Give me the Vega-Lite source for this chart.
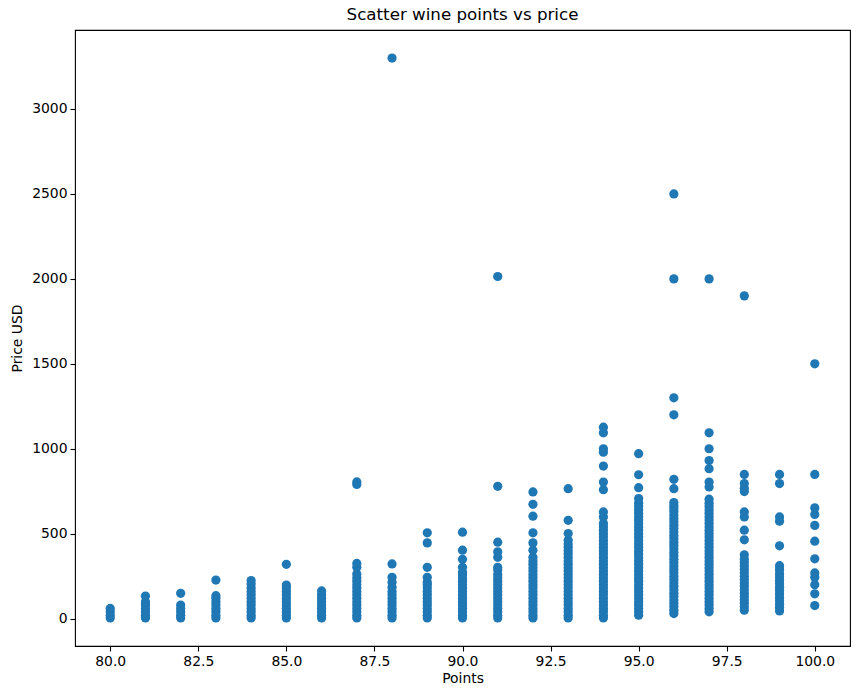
{
  "$schema": "https://vega.github.io/schema/vega-lite/v6.json",
  "width": 775,
  "height": 616,
  "autosize": {"type": "none"},
  "padding": {"left": 75, "top": 30, "right": 13, "bottom": 53},
  "background": "white",
  "title": {"text": "Scatter wine points vs price", "fontSize": 16.7, "font": "DejaVu Sans", "fontWeight": "normal", "color": "black", "offset": 6},
  "data": {
    "values": [
      {"points": 80, "price": 4}, {"points": 80, "price": 20}, {"points": 80, "price": 40}, {"points": 80, "price": 60},
      {"points": 81, "price": 4}, {"points": 81, "price": 20}, {"points": 81, "price": 40}, {"points": 81, "price": 60}, {"points": 81, "price": 80}, {"points": 81, "price": 100}, {"points": 81, "price": 133},
      {"points": 82, "price": 4}, {"points": 82, "price": 20}, {"points": 82, "price": 40}, {"points": 82, "price": 60}, {"points": 82, "price": 80}, {"points": 82, "price": 149},
      {"points": 83, "price": 4}, {"points": 83, "price": 20}, {"points": 83, "price": 40}, {"points": 83, "price": 60}, {"points": 83, "price": 80}, {"points": 83, "price": 100}, {"points": 83, "price": 120}, {"points": 83, "price": 135}, {"points": 83, "price": 227},
      {"points": 84, "price": 4}, {"points": 84, "price": 20}, {"points": 84, "price": 40}, {"points": 84, "price": 60}, {"points": 84, "price": 80}, {"points": 84, "price": 100}, {"points": 84, "price": 120}, {"points": 84, "price": 140}, {"points": 84, "price": 160}, {"points": 84, "price": 180}, {"points": 84, "price": 204}, {"points": 84, "price": 224},
      {"points": 85, "price": 4}, {"points": 85, "price": 20}, {"points": 85, "price": 40}, {"points": 85, "price": 60}, {"points": 85, "price": 80}, {"points": 85, "price": 100}, {"points": 85, "price": 120}, {"points": 85, "price": 140}, {"points": 85, "price": 160}, {"points": 85, "price": 180}, {"points": 85, "price": 198}, {"points": 85, "price": 320},
      {"points": 86, "price": 4}, {"points": 86, "price": 20}, {"points": 86, "price": 40}, {"points": 86, "price": 60}, {"points": 86, "price": 80}, {"points": 86, "price": 100}, {"points": 86, "price": 120}, {"points": 86, "price": 140}, {"points": 86, "price": 163},
      {"points": 87, "price": 4}, {"points": 87, "price": 20}, {"points": 87, "price": 40}, {"points": 87, "price": 60}, {"points": 87, "price": 80}, {"points": 87, "price": 100}, {"points": 87, "price": 120}, {"points": 87, "price": 140}, {"points": 87, "price": 160}, {"points": 87, "price": 180}, {"points": 87, "price": 200}, {"points": 87, "price": 220}, {"points": 87, "price": 240}, {"points": 87, "price": 263}, {"points": 87, "price": 302}, {"points": 87, "price": 325}, {"points": 87, "price": 790}, {"points": 87, "price": 805},
      {"points": 88, "price": 4}, {"points": 88, "price": 20}, {"points": 88, "price": 40}, {"points": 88, "price": 60}, {"points": 88, "price": 80}, {"points": 88, "price": 100}, {"points": 88, "price": 120}, {"points": 88, "price": 140}, {"points": 88, "price": 160}, {"points": 88, "price": 185}, {"points": 88, "price": 214}, {"points": 88, "price": 243}, {"points": 88, "price": 322}, {"points": 88, "price": 3300},
      {"points": 89, "price": 4}, {"points": 89, "price": 20}, {"points": 89, "price": 40}, {"points": 89, "price": 60}, {"points": 89, "price": 80}, {"points": 89, "price": 100}, {"points": 89, "price": 120}, {"points": 89, "price": 140}, {"points": 89, "price": 160}, {"points": 89, "price": 180}, {"points": 89, "price": 200}, {"points": 89, "price": 214}, {"points": 89, "price": 243}, {"points": 89, "price": 302}, {"points": 89, "price": 446}, {"points": 89, "price": 505},
      {"points": 90, "price": 4}, {"points": 90, "price": 20}, {"points": 90, "price": 40}, {"points": 90, "price": 60}, {"points": 90, "price": 80}, {"points": 90, "price": 100}, {"points": 90, "price": 120}, {"points": 90, "price": 140}, {"points": 90, "price": 160}, {"points": 90, "price": 180}, {"points": 90, "price": 200}, {"points": 90, "price": 220}, {"points": 90, "price": 240}, {"points": 90, "price": 260}, {"points": 90, "price": 273}, {"points": 90, "price": 302}, {"points": 90, "price": 349}, {"points": 90, "price": 403}, {"points": 90, "price": 509},
      {"points": 91, "price": 4}, {"points": 91, "price": 20}, {"points": 91, "price": 40}, {"points": 91, "price": 60}, {"points": 91, "price": 80}, {"points": 91, "price": 100}, {"points": 91, "price": 120}, {"points": 91, "price": 140}, {"points": 91, "price": 160}, {"points": 91, "price": 180}, {"points": 91, "price": 200}, {"points": 91, "price": 220}, {"points": 91, "price": 240}, {"points": 91, "price": 260}, {"points": 91, "price": 286}, {"points": 91, "price": 302}, {"points": 91, "price": 361}, {"points": 91, "price": 393}, {"points": 91, "price": 450}, {"points": 91, "price": 779}, {"points": 91, "price": 2014},
      {"points": 92, "price": 4}, {"points": 92, "price": 20}, {"points": 92, "price": 40}, {"points": 92, "price": 60}, {"points": 92, "price": 80}, {"points": 92, "price": 100}, {"points": 92, "price": 120}, {"points": 92, "price": 140}, {"points": 92, "price": 160}, {"points": 92, "price": 180}, {"points": 92, "price": 200}, {"points": 92, "price": 220}, {"points": 92, "price": 240}, {"points": 92, "price": 260}, {"points": 92, "price": 280}, {"points": 92, "price": 300}, {"points": 92, "price": 320}, {"points": 92, "price": 340}, {"points": 92, "price": 361}, {"points": 92, "price": 403}, {"points": 92, "price": 446}, {"points": 92, "price": 505}, {"points": 92, "price": 603}, {"points": 92, "price": 673}, {"points": 92, "price": 746},
      {"points": 93, "price": 4}, {"points": 93, "price": 20}, {"points": 93, "price": 40}, {"points": 93, "price": 60}, {"points": 93, "price": 80}, {"points": 93, "price": 100}, {"points": 93, "price": 120}, {"points": 93, "price": 140}, {"points": 93, "price": 160}, {"points": 93, "price": 180}, {"points": 93, "price": 200}, {"points": 93, "price": 220}, {"points": 93, "price": 240}, {"points": 93, "price": 260}, {"points": 93, "price": 280}, {"points": 93, "price": 300}, {"points": 93, "price": 320}, {"points": 93, "price": 340}, {"points": 93, "price": 360}, {"points": 93, "price": 380}, {"points": 93, "price": 400}, {"points": 93, "price": 420}, {"points": 93, "price": 440}, {"points": 93, "price": 462}, {"points": 93, "price": 501}, {"points": 93, "price": 579}, {"points": 93, "price": 765},
      {"points": 94, "price": 4}, {"points": 94, "price": 20}, {"points": 94, "price": 40}, {"points": 94, "price": 60}, {"points": 94, "price": 80}, {"points": 94, "price": 100}, {"points": 94, "price": 120}, {"points": 94, "price": 140}, {"points": 94, "price": 160}, {"points": 94, "price": 180}, {"points": 94, "price": 200}, {"points": 94, "price": 220}, {"points": 94, "price": 240}, {"points": 94, "price": 260}, {"points": 94, "price": 280}, {"points": 94, "price": 300}, {"points": 94, "price": 320}, {"points": 94, "price": 340}, {"points": 94, "price": 360}, {"points": 94, "price": 380}, {"points": 94, "price": 400}, {"points": 94, "price": 420}, {"points": 94, "price": 440}, {"points": 94, "price": 460}, {"points": 94, "price": 480}, {"points": 94, "price": 500}, {"points": 94, "price": 520}, {"points": 94, "price": 540}, {"points": 94, "price": 560}, {"points": 94, "price": 599}, {"points": 94, "price": 628}, {"points": 94, "price": 759}, {"points": 94, "price": 804}, {"points": 94, "price": 898}, {"points": 94, "price": 980}, {"points": 94, "price": 1000}, {"points": 94, "price": 1094}, {"points": 94, "price": 1127},
      {"points": 95, "price": 20}, {"points": 95, "price": 40}, {"points": 95, "price": 60}, {"points": 95, "price": 80}, {"points": 95, "price": 100}, {"points": 95, "price": 120}, {"points": 95, "price": 140}, {"points": 95, "price": 160}, {"points": 95, "price": 180}, {"points": 95, "price": 200}, {"points": 95, "price": 220}, {"points": 95, "price": 240}, {"points": 95, "price": 260}, {"points": 95, "price": 280}, {"points": 95, "price": 300}, {"points": 95, "price": 320}, {"points": 95, "price": 340}, {"points": 95, "price": 360}, {"points": 95, "price": 380}, {"points": 95, "price": 400}, {"points": 95, "price": 420}, {"points": 95, "price": 440}, {"points": 95, "price": 460}, {"points": 95, "price": 480}, {"points": 95, "price": 500}, {"points": 95, "price": 520}, {"points": 95, "price": 540}, {"points": 95, "price": 560}, {"points": 95, "price": 580}, {"points": 95, "price": 600}, {"points": 95, "price": 620}, {"points": 95, "price": 640}, {"points": 95, "price": 660}, {"points": 95, "price": 680}, {"points": 95, "price": 707}, {"points": 95, "price": 771}, {"points": 95, "price": 847}, {"points": 95, "price": 971},
      {"points": 96, "price": 30}, {"points": 96, "price": 50}, {"points": 96, "price": 70}, {"points": 96, "price": 90}, {"points": 96, "price": 110}, {"points": 96, "price": 130}, {"points": 96, "price": 150}, {"points": 96, "price": 170}, {"points": 96, "price": 190}, {"points": 96, "price": 210}, {"points": 96, "price": 230}, {"points": 96, "price": 250}, {"points": 96, "price": 270}, {"points": 96, "price": 290}, {"points": 96, "price": 310}, {"points": 96, "price": 330}, {"points": 96, "price": 350}, {"points": 96, "price": 370}, {"points": 96, "price": 390}, {"points": 96, "price": 410}, {"points": 96, "price": 430}, {"points": 96, "price": 450}, {"points": 96, "price": 470}, {"points": 96, "price": 490}, {"points": 96, "price": 510}, {"points": 96, "price": 530}, {"points": 96, "price": 550}, {"points": 96, "price": 570}, {"points": 96, "price": 590}, {"points": 96, "price": 610}, {"points": 96, "price": 630}, {"points": 96, "price": 650}, {"points": 96, "price": 665}, {"points": 96, "price": 683}, {"points": 96, "price": 765}, {"points": 96, "price": 820}, {"points": 96, "price": 1200}, {"points": 96, "price": 1300}, {"points": 96, "price": 2000}, {"points": 96, "price": 2500},
      {"points": 97, "price": 40}, {"points": 97, "price": 60}, {"points": 97, "price": 80}, {"points": 97, "price": 100}, {"points": 97, "price": 120}, {"points": 97, "price": 140}, {"points": 97, "price": 160}, {"points": 97, "price": 180}, {"points": 97, "price": 200}, {"points": 97, "price": 220}, {"points": 97, "price": 240}, {"points": 97, "price": 260}, {"points": 97, "price": 280}, {"points": 97, "price": 300}, {"points": 97, "price": 320}, {"points": 97, "price": 340}, {"points": 97, "price": 360}, {"points": 97, "price": 380}, {"points": 97, "price": 400}, {"points": 97, "price": 420}, {"points": 97, "price": 440}, {"points": 97, "price": 460}, {"points": 97, "price": 480}, {"points": 97, "price": 500}, {"points": 97, "price": 520}, {"points": 97, "price": 540}, {"points": 97, "price": 560}, {"points": 97, "price": 580}, {"points": 97, "price": 600}, {"points": 97, "price": 620}, {"points": 97, "price": 640}, {"points": 97, "price": 660}, {"points": 97, "price": 680}, {"points": 97, "price": 703}, {"points": 97, "price": 775}, {"points": 97, "price": 804}, {"points": 97, "price": 883}, {"points": 97, "price": 931}, {"points": 97, "price": 1000}, {"points": 97, "price": 1094}, {"points": 97, "price": 2000},
      {"points": 98, "price": 50}, {"points": 98, "price": 70}, {"points": 98, "price": 90}, {"points": 98, "price": 110}, {"points": 98, "price": 130}, {"points": 98, "price": 150}, {"points": 98, "price": 170}, {"points": 98, "price": 190}, {"points": 98, "price": 210}, {"points": 98, "price": 230}, {"points": 98, "price": 250}, {"points": 98, "price": 270}, {"points": 98, "price": 290}, {"points": 98, "price": 310}, {"points": 98, "price": 330}, {"points": 98, "price": 350}, {"points": 98, "price": 376}, {"points": 98, "price": 464}, {"points": 98, "price": 521}, {"points": 98, "price": 599}, {"points": 98, "price": 628}, {"points": 98, "price": 748}, {"points": 98, "price": 768}, {"points": 98, "price": 795}, {"points": 98, "price": 849}, {"points": 98, "price": 1900},
      {"points": 99, "price": 45}, {"points": 99, "price": 65}, {"points": 99, "price": 85}, {"points": 99, "price": 105}, {"points": 99, "price": 125}, {"points": 99, "price": 145}, {"points": 99, "price": 165}, {"points": 99, "price": 185}, {"points": 99, "price": 205}, {"points": 99, "price": 225}, {"points": 99, "price": 245}, {"points": 99, "price": 265}, {"points": 99, "price": 290}, {"points": 99, "price": 312}, {"points": 99, "price": 429}, {"points": 99, "price": 574}, {"points": 99, "price": 599}, {"points": 99, "price": 795}, {"points": 99, "price": 849},
      {"points": 100, "price": 77}, {"points": 100, "price": 146}, {"points": 100, "price": 200}, {"points": 100, "price": 243}, {"points": 100, "price": 269}, {"points": 100, "price": 352}, {"points": 100, "price": 456}, {"points": 100, "price": 549}, {"points": 100, "price": 613}, {"points": 100, "price": 652}, {"points": 100, "price": 849}, {"points": 100, "price": 1500}
    ]
  },
  "mark": {"type": "circle", "color": "#1f77b4", "opacity": 1, "size": 85},
  "encoding": {
    "x": {
      "field": "points",
      "type": "quantitative",
      "title": "Points",
      "scale": {"domain": [79, 101], "nice": false, "zero": false},
      "axis": {"values": [80, 82.5, 85, 87.5, 90, 92.5, 95, 97.5, 100], "format": ".1f"}
    },
    "y": {
      "field": "price",
      "type": "quantitative",
      "title": "Price USD",
      "scale": {"domain": [-161, 3465], "nice": false, "zero": false},
      "axis": {"values": [0, 500, 1000, 1500, 2000, 2500, 3000], "format": "d"}
    }
  },
  "config": {
    "font": "DejaVu Sans",
    "view": {"stroke": "black", "strokeWidth": 1.1},
    "axis": {
      "grid": false,
      "domain": false,
      "ticks": true,
      "tickColor": "black",
      "tickSize": 5,
      "tickWidth": 1.1,
      "labelFontSize": 13.9,
      "labelColor": "black",
      "labelFont": "DejaVu Sans",
      "labelPadding": 3,
      "titleFontSize": 13.9,
      "titleFontWeight": "normal",
      "titleColor": "black",
      "titleFont": "DejaVu Sans"
    },
    "axisX": {"titlePadding": 4},
    "axisY": {"titlePadding": 7}
  }
}
